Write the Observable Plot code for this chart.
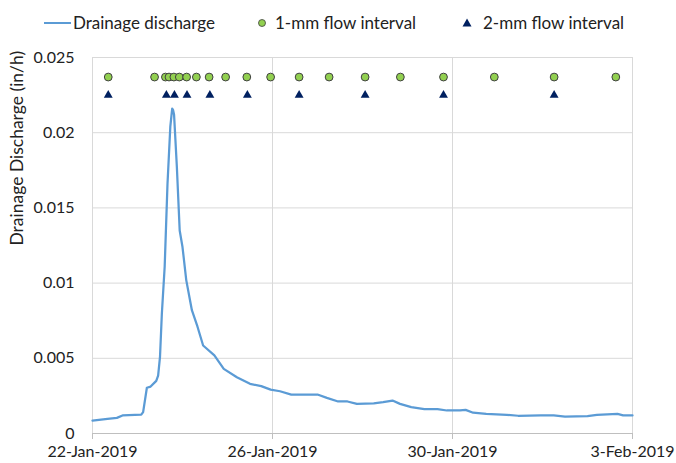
<!DOCTYPE html>
<html>
<head>
<meta charset="utf-8">
<script src="https://cdn.jsdelivr.net/npm/d3@7"></script>
<script src="https://cdn.jsdelivr.net/npm/@observablehq/plot@0.6"></script>
<style>
  body { margin: 0; background: #fff; font-family: Lato, "Liberation Sans", sans-serif; color: #222; }
  #wrap { position: relative; width: 676px; height: 463px; }
  #legend { position: relative; height: 38px; font-size: 17px; }
  #legend .item { position: absolute; top: 12px; line-height: 22px; white-space: nowrap; }
  #legend svg { position: absolute; }
</style>
</head>
<body>
<div id="wrap">
  <div id="legend"></div>
  <div id="chart"></div>
</div>
<script>
// ---- Data ----
const startDate = "2019-01-22T00:00:00Z";
// hours since 22-Jan-2019 00:00
const dischargeHours = [0, 8, 13, 16, 26, 27, 29, 31, 34, 35, 36, 37, 38.5, 40, 41.5, 42.5, 43, 43.5, 45, 46.5, 48, 50, 53, 56, 59, 65, 70, 77, 84, 90, 95, 100, 106, 120, 125, 131, 136, 141, 150, 155, 160, 164, 170, 177, 184, 189, 196, 199, 203, 210, 221, 227, 239, 246, 252, 264, 269, 280, 283, 288];
const dischargeValues = [0.00086, 0.00098, 0.00104, 0.0012, 0.00125, 0.00142, 0.00304, 0.00312, 0.0035, 0.00385, 0.0051, 0.0080, 0.0111, 0.0166, 0.0204, 0.0216, 0.0215, 0.0212, 0.0177, 0.0135, 0.0124, 0.0102, 0.0082, 0.0071, 0.00585, 0.0052, 0.0043, 0.00374, 0.0033, 0.00315, 0.00292, 0.00281, 0.00259, 0.00259, 0.00237, 0.00213, 0.00213, 0.00197, 0.0020, 0.00208, 0.00219, 0.00197, 0.00175, 0.00162, 0.00162, 0.00153, 0.00153, 0.00157, 0.00138, 0.00131, 0.00124, 0.00118, 0.0012, 0.0012, 0.00113, 0.00115, 0.00124, 0.0013, 0.0012, 0.0012];
const oneMmHours = [8.4, 33.1, 38.9, 40.8, 43.4, 46.3, 50.2, 55.4, 62.2, 71, 82.3, 95, 110.2, 126.2, 145.4, 164.2, 187.2, 214.3, 246.2, 279.1];
const oneMmLevel = 0.0237;
const twoMmHours = [8.4, 39.4, 43.7, 50.4, 62.6, 82.6, 110.2, 145.4, 187.2, 246.2];
const twoMmLevel = 0.0225;
const xTicks = ["2019-01-22", "2019-01-26", "2019-01-30", "2019-02-03"];
const yTicks = [0, 0.005, 0.01, 0.015, 0.02, 0.025];
const seriesNames = ["Drainage discharge", "1-mm flow interval", "2-mm flow interval"];
const yTitle = "Drainage Discharge (in/h)";

// ---- Build ----
const t0 = new Date(startDate).getTime();
const toDate = h => new Date(t0 + h * 3600 * 1000);
const discharge = dischargeHours.map((h, i) => ({date: toDate(h), value: dischargeValues[i]}));
const oneMm = oneMmHours.map(h => ({date: toDate(h), value: oneMmLevel}));
const twoMm = twoMmHours.map(h => ({date: toDate(h), value: twoMmLevel}));
const xTickDates = xTicks.map(s => new Date(s + "T00:00:00Z"));

const blue = "#5B9BD5", green = "#92D050", navy = "#002060", grid = "#d9d9d9", axisCol = "#bfbfbf", textCol = "#222";

// Legend (HTML)
const legend = document.getElementById("legend");
legend.innerHTML = `
  <svg style="left:44px;top:0" width="30" height="38"><line x1="0" x2="27" y1="23" y2="23" stroke="${blue}" stroke-width="2"/></svg>
  <div class="item" style="left:73px">${seriesNames[0]}</div>
  <svg style="left:255px;top:0" width="14" height="38"><circle cx="7" cy="23" r="3.5" fill="${green}" stroke="#404040" stroke-width="0.8"/></svg>
  <div class="item" style="left:275px">${seriesNames[1]}</div>
  <svg style="left:460px;top:0" width="14" height="38"><path d="M7,18.5 L11.5,26.5 L2.5,26.5 Z" fill="${navy}"/></svg>
  <div class="item" style="left:483px">${seriesNames[2]}</div>
`;

const chart = Plot.plot({
  width: 676,
  height: 425,
  marginTop: 19,
  marginBottom: 30,
  marginLeft: 92,
  marginRight: 44,
  style: {fontFamily: "Lato, 'Liberation Sans', sans-serif", fontSize: "16px", color: textCol, background: "white", overflow: "visible"},
  x: {type: "utc", domain: [xTickDates[0], xTickDates[xTickDates.length - 1]]},
  y: {domain: [0, 0.025]},
  marks: [
    Plot.gridY(yTicks.filter(d => d > 0), {stroke: grid, strokeOpacity: 1, strokeWidth: 1}),
    Plot.gridX(xTickDates, {stroke: grid, strokeOpacity: 1, strokeWidth: 1}),
    Plot.ruleY([0], {stroke: axisCol, strokeWidth: 1}),
    Plot.axisX(xTickDates, {tickSize: 6, tickPadding: 6, stroke: axisCol, tickFormat: d3.utcFormat("%-d-%b-%Y"), fontSize: 16, fill: textCol, label: null}),
    Plot.axisY(yTicks, {tickSize: 0, tickPadding: 18, tickFormat: d => d3.format("")(d), fontSize: 16, fill: textCol, label: null}),
    Plot.text([yTitle], {frameAnchor: "left", dx: -75, rotate: -90, text: d => d, fontSize: 17.5, fill: textCol}),
    Plot.line(discharge, {x: "date", y: "value", stroke: blue, strokeWidth: 2.25, curve: "linear"}),
    Plot.dot(oneMm, {x: "date", y: "value", r: 3.9, fill: green, stroke: "#404040", strokeWidth: 1}),
    Plot.dot(twoMm, {x: "date", y: "value", r: 3.3, symbol: "triangle", fill: navy, stroke: "none"})
  ]
});
document.getElementById("chart").appendChild(chart);
</script>
</body>
</html>
